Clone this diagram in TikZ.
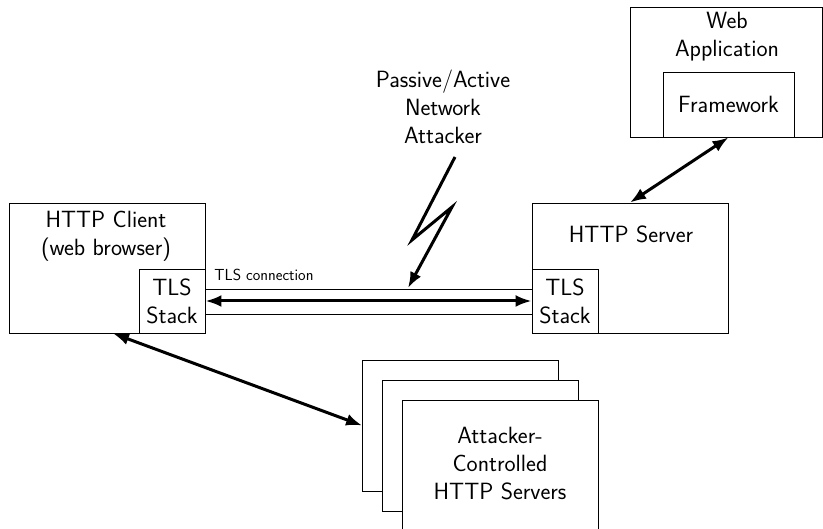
\documentclass[tikz,border=0pt]{standalone}
\usepackage{fontspec}
\usetikzlibrary{arrows.meta}
\renewcommand{\familydefault}{\sfdefault}

\tikzset{every picture/.style={line width=0.8pt}}
\tikzset{
  box/.style={draw, fill=white, inner sep=0pt, minimum width=196pt, minimum height=130pt},
  tlsbox/.style={draw, fill=white, inner sep=0pt, minimum width=66pt, minimum height=64pt, lbl},
  lbl/.style={align=center, inner sep=0pt, font=\fontsize{23.5}{28}\selectfont},
  conn/.style={line width=3pt, {Latex[length=16pt,width=12pt]}-{Latex[length=16pt,width=12pt]}},
}

\begin{document}
\begin{tikzpicture}[x=1pt,y=1pt,yscale=-1,xscale=1]
\useasboundingbox (0,0) rectangle (823,529);

%Shape: Client box
\node [box] (client) at (107,268) {};
\node [lbl] (clienttext) at (106,236) {HTTP Client\\(web browser)};
\node [tlsbox] (clienttls) at (172,301) {TLS\\Stack};

%Shape: Server box
\node [box] (server) at (630,268) {};
\node [lbl, anchor=base] (servertext) at (631,243) {HTTP Server};
\node [tlsbox] (servertls) at (565,301) {TLS\\Stack};

%Shape: Web application with framework
\node [box, minimum width=192pt] (webapp) at (726,72) {};
\node [lbl] (webapptext) at (727,37) {Web\\Application};
\node [draw, lbl, minimum width=131pt, minimum height=65pt] (framework) at (728.5,104.5) {Framework};

%Shape: Attacker controlled servers (stacked)
\node [box, minimum height=131pt] (att1) at (460.5,425.5) {};
\node [box, minimum height=131pt] (att2) at (480.5,445.5) {};
\node [box, minimum height=131pt] (att3) at (500.5,465.5) {};
\node [lbl] (atttext) at (500,464) {Attacker-\\Controlled\\HTTP Servers};

%Text Node
\node [lbl] (mitm) at (443,107) {Passive/Active\\Network\\Attacker};

%Straight Lines: TLS connection
\draw ([yshift=13pt]clienttls.east) -- ([yshift=13pt]servertls.west);
\draw ([yshift=-12pt]clienttls.east) -- ([yshift=-12pt]servertls.west);
\node [anchor=base west, inner sep=0pt, font=\fontsize{16}{19}\selectfont] (tlslabel) at (214,281) {TLS connection};
\draw [conn] (clienttls.east) -- (servertls.west);

%Lightning bolt
\coordinate (bolt) at (455,157);
\coordinate (hit) at (408,288);
\draw [line width=3pt, line join=miter, -{Latex[length=16pt,width=12pt]}] (bolt) -- (412,240) -- (452,207) -- (hit);

%Arrows
\draw [conn] (framework.south) -- (server.north);
\draw [conn] ([xshift=6pt]client.south) -- (att1.west);

\end{tikzpicture}
\end{document}
